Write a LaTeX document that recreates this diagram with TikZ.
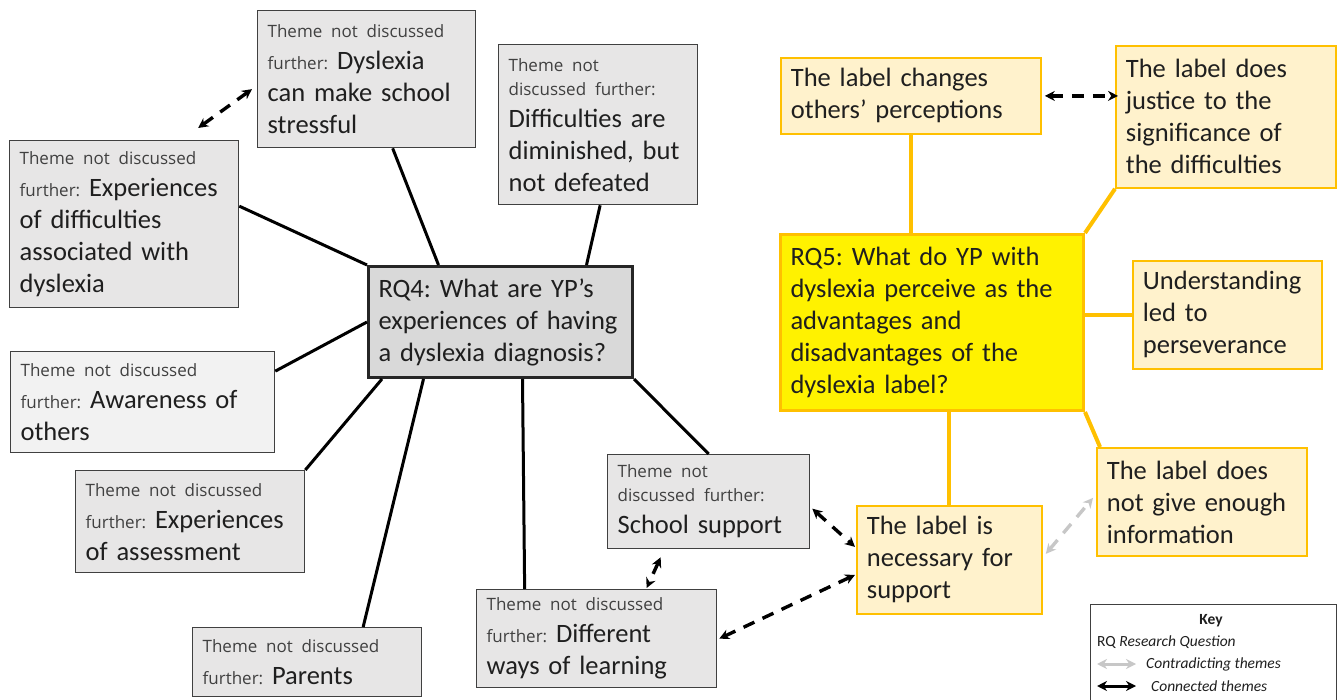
\documentclass[tikz,border=0pt]{standalone}
\usepackage{fontspec}
\setmainfont{Carlito}
\newfontfamily\segoe{Open Sans}[WordSpace=0.8]
\usetikzlibrary{calc,arrows.meta}

\definecolor{boxgrey}{HTML}{E7E6E6}
\definecolor{rqgrey}{HTML}{D9D9D9}
\definecolor{palegrey}{HTML}{F2F2F2}
\definecolor{gold}{HTML}{FFC000}
\definecolor{cream}{HTML}{FFF2CC}
\definecolor{txtgrey}{HTML}{404040}
\newcommand{\nd}[1]{{\segoe\fontsize{17}{20}\selectfont\color{txtgrey}#1}}
\frenchspacing

\tikzset{
  themebox/.style={draw=txtgrey, line width=1.3pt, fill=boxgrey, anchor=north west, align=left, inner xsep=10pt, inner ysep=3pt},
  labelbox/.style={draw=gold, line width=1.8pt, fill=cream, anchor=north west, align=left, inner xsep=10pt, inner ysep=3pt},
  link/.style={line width=3pt},
  goldlink/.style={gold, line width=4pt},
  connected/.style={<->, dashed, line width=3.4pt, dash pattern=on 12pt off 9pt},
  contradict/.style={connected, black!22}
}

\begin{document}
\begin{tikzpicture}[>={Stealth[length=10pt, width=10pt]}, x=1pt, y=-1pt, font=\fontsize{26.5}{32}\selectfont, text=black!88]
  \useasboundingbox (0,0) rectangle (1339,700);
  % RQ4 and the themes that were not taken further
  \node[themebox, fill=rqgrey, line width=3pt, draw=black!85, text width=244pt, minimum height=111pt] (rqfour) at (367,265)
    {RQ4: What are YP's\\ experiences of having\\ a dyslexia diagnosis?};
  \node[themebox, text width=198pt, minimum height=137pt] (stress) at (257,10)
    {\nd{Theme not discussed}\\ \nd{further:} Dyslexia\\ can make school\\ stressful};
  \node[themebox, text width=179pt, minimum height=160pt] (diminish) at (498,44)
    {\nd{Theme not}\\[-8pt] \nd{discussed further:}\\ Difficulties are\\ diminished, but\\ not defeated};
  \node[themebox, text width=209pt, minimum height=167pt] (difficult) at (9,140)
    {\nd{Theme not discussed}\\ \nd{further:} Experiences\\ of difficulties\\ associated with\\ dyslexia};
  \node[themebox, fill=palegrey, text width=244pt, minimum height=101pt] (aware) at (10,351)
    {\nd{Theme not discussed}\\ \nd{further:} Awareness of\\ others};
  \node[themebox, text width=209pt, minimum height=102pt] (assess) at (75,470)
    {\nd{Theme not discussed}\\ \nd{further:} Experiences\\ of assessment};
  \node[themebox, text width=209pt, minimum height=69pt] (parents) at (192,627)
    {\nd{Theme not discussed}\\ \nd{further:} Parents};
  \node[themebox, text width=220pt, minimum height=98pt] (ways) at (476,589)
    {\nd{Theme not discussed}\\ \nd{further:} Different\\ ways of learning};
  \node[themebox, text width=182pt, minimum height=94pt] (school) at (607,454)
    {\nd{Theme not}\\[-8pt] \nd{discussed further:}\\ School support};

  \draw[link] ([xshift=-62pt]rqfour.north) -- ([xshift=26pt]stress.south);
  \draw[link] ([xshift=86pt]rqfour.north) -- ([xshift=2pt]diminish.south);
  \draw[link] (rqfour.north west) -- ([yshift=18pt]difficult.east);
  \draw[link] (rqfour.west) -- ([yshift=31pt]aware.east);
  \draw[link] ([xshift=15pt]rqfour.south west) -- (assess.north east);
  \draw[link] ([xshift=-77pt]rqfour.south) -- ([xshift=56pt]parents.north);
  \draw[link] ([xshift=22pt]rqfour.south) -- ([xshift=-72pt]ways.north);
  \draw[link] (rqfour.south east) -- (school.north);

  % RQ5 and its themes
  \node[labelbox, fill=yellow, line width=3pt, text width=283pt, minimum height=176pt] (rqfive) at (779,233)
    {RQ5: What do YP with\\ dyslexia perceive as the\\ advantages and\\ disadvantages of the\\ dyslexia label?};
  \node[labelbox, text width=240pt, minimum height=76pt] (perceive) at (780,57)
    {The label changes\\ others' perceptions};
  \node[labelbox, text width=200pt, minimum height=142pt] (justice) at (1115,45)
    {The label does\\ justice to the\\ significance of\\ the difficulties};
  \node[labelbox, text width=169pt, minimum height=108pt] (persevere) at (1132,260)
    {Understanding\\ led to\\ perseverance};
  \node[labelbox, text width=190pt, minimum height=108pt] (enough) at (1096,447)
    {The label does\\ not give enough\\ information};
  \node[labelbox, text width=165pt, minimum height=108pt] (support) at (856,505)
    {The label is\\ necessary for\\ support};

  \draw[goldlink] (perceive.south) -- (perceive.south |- rqfive.north);
  \draw[goldlink] (rqfive.north east) -- (justice.south west);
  \draw[goldlink] (persevere.west) -- (persevere.west -| rqfive.east);
  \draw[goldlink] (rqfive.south east) -- ([xshift=4pt]enough.north west);
  \draw[goldlink] (support.north) -- (support.north |- rqfive.south);

  % links between themes
  \draw[connected] ([shift={(-5,10)}]stress.west) -- ([shift={(74,-12)}]difficult.north);
  \draw[connected] ([xshift=3pt]perceive.east) -- ([xshift=3pt]perceive.east -| justice.west);
  \draw[connected] ([shift={(2,7)}]school.east) -- ([shift={(-1,-13)}]support.west);
  \draw[connected] ([shift={(-48,8)}]school.south) -- ([shift={(50,-1)}]ways.north);
  \draw[connected] ([shift={(-1,15)}]support.west) -- ([xshift=2pt]ways.east);
  \draw[contradict] ([shift={(3,-6)}]support.east) -- ([shift={(-3,-4)}]enough.west);

  % key
  \node[draw=txtgrey, line width=1.3pt, fill=white, anchor=north west, minimum width=246pt, minimum height=100pt] (key) at (1090,604) {};
  \node[font=\fontsize{15.5}{18}\selectfont\bfseries] (keytitle) at (1211,621) {Key};
  \node[font=\fontsize{15.5}{18}\selectfont, anchor=west, inner sep=0pt] (rq) at (1097,642) {RQ \textit{Research Question}};
  \node[font=\fontsize{15.5}{18}\selectfont\itshape, anchor=west, inner sep=0pt] (contra) at (1146,664) {Contradicting themes};
  \node[font=\fontsize{15.5}{18}\selectfont\itshape, anchor=west, inner sep=0pt] (conn) at (1151,686) {Connected themes};
  \draw[<->, black!22, line width=3pt] ([xshift=-49pt]contra.west) -- ([xshift=-10pt]contra.west);
  \draw[<->, line width=3pt] ([xshift=-54pt]conn.west) -- ([xshift=-15pt]conn.west);
\end{tikzpicture}
\end{document}
